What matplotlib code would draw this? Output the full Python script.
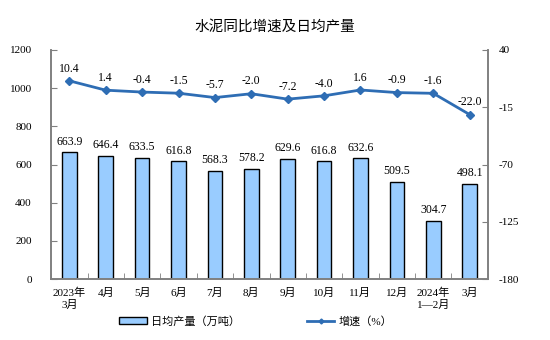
import matplotlib
matplotlib.use("Agg")
import matplotlib.pyplot as plt
from matplotlib.lines import Line2D
from matplotlib.patches import Patch
import numpy as np

plt.rcParams['font.family'] = ['Liberation Serif', 'Noto Sans CJK SC']

categories = ["2023年\n3月", "4月", "5月", "6月", "7月", "8月", "9月", "10月",
              "11月", "12月", "2024年\n1—2月", "3月"]
daily_output = [663.9, 646.4, 633.5, 616.8, 568.3, 578.2, 629.6, 616.8,
                632.6, 509.5, 304.7, 498.1]
growth = [10.4, 1.4, -0.4, -1.5, -5.7, -2.0, -7.2, -4.0, 1.6, -0.9, -1.6, -22.0]

left_ticks = [0, 200, 400, 600, 800, 1000, 1200]
right_ticks = [-180, -125, -70, -15, 40]

bar_color = "#99CCFF"
line_color = "#2E6DB4"
spine_color = "#808080"

fig = plt.figure(figsize=(5.5, 3.4), dpi=100)
ax = fig.add_axes([0.093, 0.179, 0.794, 0.674])
ax2 = ax.twinx()

x = np.arange(len(categories))
ax.bar(x, daily_output, width=0.4, color=bar_color, edgecolor="black", linewidth=1.0, zorder=2)
for xi, v in zip(x, daily_output):
    ax.text(xi, v + 25, f"{v:.1f}", ha="center", va="bottom", fontsize=8.5)

ax.set_xlim(-0.5, len(categories) - 0.5)
ax.set_ylim(0, 1200)
ax.set_yticks(left_ticks)
ax.set_yticklabels([str(t) for t in left_ticks], fontsize=8)
ax.set_xticks(x)
ax.set_xticklabels(categories, fontsize=8, linespacing=1.3)
ax.tick_params(axis="x", length=0, pad=6)
ax.set_xticks(np.arange(-0.5, len(categories) + 0.5, 1), minor=True)
ax.tick_params(axis="x", which="minor", direction="in", length=4, color=spine_color)
ax.tick_params(axis="y", direction="in", length=4, color=spine_color, pad=14)

ax2.plot(x, growth, color=line_color, linewidth=2, marker="D", markersize=4, zorder=3)
for xi, v in zip(x, growth):
    ax2.text(xi, v + 6, f"{v:.1f}", ha="center", va="bottom", fontsize=8.5)
ax2.set_ylim(-180, 40)
ax2.set_yticks(right_ticks)
ax2.set_yticklabels([str(t) for t in right_ticks], fontsize=8)
ax2.tick_params(axis="y", direction="in", length=4, color=spine_color, pad=8)

for a in (ax, ax2):
    a.spines["top"].set_visible(False)
    for s in ("left", "right", "bottom"):
        a.spines[s].set_color(spine_color)
        a.spines[s].set_linewidth(1.2)

fig.text(0.5, 0.92, "水泥同比增速及日均产量", ha="center", va="center",
         fontsize=10.5, family=["Noto Sans CJK SC"])

handles = [Patch(facecolor=bar_color, edgecolor="black", linewidth=1.0),
           Line2D([0], [0], color=line_color, linewidth=2, marker="D", markersize=2.5)]
fig.legend(handles, ["日均产量（万吨）", "增速（%）"], loc="center",
           bbox_to_anchor=(0.465, 0.055), ncol=2, frameon=False, fontsize=8,
           columnspacing=6, handlelength=2.5, handleheight=0.6, handletextpad=0.4)

fig.savefig("out.png", dpi=100)
